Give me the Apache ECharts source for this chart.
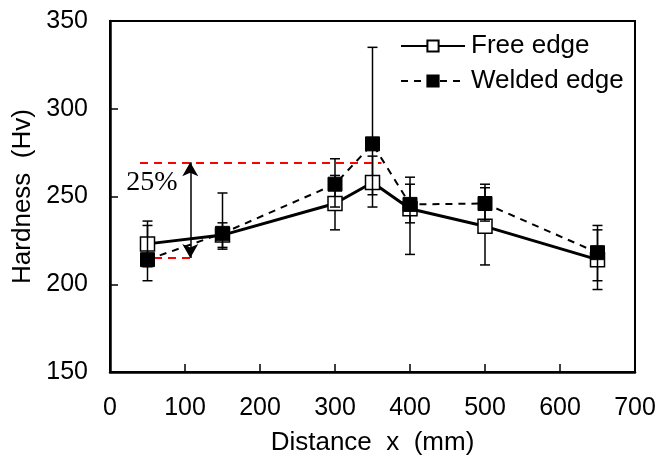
<!DOCTYPE html>
<html>
<head>
<meta charset="utf-8">
<script src="https://cdn.jsdelivr.net/npm/echarts@6/dist/echarts.min.js"></script>
<style>html,body{margin:0;padding:0;background:#fff}#c{width:665px;height:461px}</style>
</head>
<body>
<div id="c"></div>
<script>
// ---- data ----
const distance = [50, 150, 300, 350, 400, 500, 650];
const freeEdge = [223, 228, 246, 258, 243, 233, 214];
const freeLow  = [210, 221, 231, 244, 217, 211, 197];
const freeHigh = [236, 235, 262, 273, 257, 255, 231];
const weldedEdge = [214, 229, 257, 280, 245.5, 246, 218];
const weldedLow  = [202, 220, 244, 251, 235, 236, 202];
const weldedHigh = [233.5, 252, 271.5, 335, 261, 257, 233.5];
const yTicks = [150, 200, 250, 300, 350];
const xTicks = [0, 100, 200, 300, 400, 500, 600, 700];
// annotation values
const annoHigh = 269.5;
const annoLow = 215;
const annoHighRange = [40, 362];
const annoLowRange = [40, 107];
const arrowX = 107;
const annoText = '25%';
const annoTextPos = [56, 258];

const font = 'Liberation Sans, Arial, sans-serif';
const pairs = (ys) => distance.map((x, i) => [x, ys[i]]);
const errData = (lo, hi) => distance.map((x, i) => [x, lo[i], hi[i]]);

function errRender(params, api) {
  const x = api.value(0), lo = api.value(1), hi = api.value(2);
  const p1 = api.coord([x, lo]), p2 = api.coord([x, hi]);
  const w = 5;
  const st = { stroke: '#000', lineWidth: 1.5 };
  return {
    type: 'group',
    children: [
      { type: 'line', shape: { x1: p1[0], y1: p1[1], x2: p2[0], y2: p2[1] }, style: st },
      { type: 'line', shape: { x1: p1[0] - w, y1: p1[1], x2: p1[0] + w, y2: p1[1] }, style: st },
      { type: 'line', shape: { x1: p2[0] - w, y1: p2[1], x2: p2[0] + w, y2: p2[1] }, style: st }
    ]
  };
}

const chart = echarts.init(document.getElementById('c'), null, { renderer: 'canvas' });
chart.setOption({
  animation: false,
  backgroundColor: '#fff',
  grid: { left: 110, top: 21, right: 30, bottom: 86, show: true, borderColor: '#000', borderWidth: 2 },
  legend: {
    orient: 'vertical',
    left: 400, top: 33,
    padding: 0,
    itemWidth: 64, itemHeight: 14, itemGap: 9,
    textStyle: { fontFamily: font, fontSize: 26, color: '#000', padding: [0, 0, 0, 1] },
    data: ['Free edge', 'Welded edge']
  },
  xAxis: {
    type: 'value', min: xTicks[0], max: xTicks[xTicks.length - 1], interval: 100,
    name: 'Distance  x  (mm)', nameLocation: 'middle', nameGap: 58,
    nameTextStyle: { fontFamily: font, fontSize: 26, color: '#000' },
    axisLine: { show: true, onZero: false, lineStyle: { color: '#000', width: 2.5 } },
    axisTick: { show: true, inside: true, length: 8, lineStyle: { color: '#000', width: 1.5 } },
    axisLabel: { fontFamily: font, fontSize: 25, color: '#000', margin: 24 },
    splitLine: { show: false }
  },
  yAxis: {
    type: 'value', min: yTicks[0], max: yTicks[yTicks.length - 1], interval: 50,
    name: 'Hardness  (Hv)', nameLocation: 'middle', nameGap: 74,
    nameTextStyle: { fontFamily: font, fontSize: 26, color: '#000' },
    axisLine: { show: true, onZero: false, lineStyle: { color: '#000', width: 2.5 } },
    axisTick: { show: true, inside: true, length: 8, lineStyle: { color: '#000', width: 1.5 } },
    axisLabel: { fontFamily: font, fontSize: 25, color: '#000', margin: 22 },
    splitLine: { show: false }
  },
  series: [
    {
      type: 'custom', name: 'freeErr', renderItem: errRender, data: errData(freeLow, freeHigh), z: 3,
      encode: { x: 0, y: [1, 2] }, silent: true
    },
    {
      type: 'line', name: 'Free edge', data: pairs(freeEdge), z: 4,
      symbol: 'rect', symbolSize: 14,
      lineStyle: { color: '#000', width: 3 },
      itemStyle: { color: '#fff', borderColor: '#000', borderWidth: 1.5 },
      markLine: {
        silent: true, symbol: 'none', animation: false,
        label: { show: false },
        lineStyle: { color: '#ff0000', type: [8, 6], width: 2 },
        data: [
          [{ coord: [annoHighRange[0], annoHigh] }, { coord: [annoHighRange[1], annoHigh] }],
          [{ coord: [annoLowRange[0], annoLow] }, { coord: [annoLowRange[1], annoLow] }]
        ]
      }
    },
    {
      type: 'custom', name: 'weldedErr', renderItem: errRender, data: errData(weldedLow, weldedHigh), z: 5,
      encode: { x: 0, y: [1, 2] }, silent: true
    },
    {
      type: 'line', name: 'Welded edge', data: pairs(weldedEdge), z: 6,
      symbol: 'rect', symbolSize: 14,
      lineStyle: { color: '#000', width: 2, type: [7, 6] },
      itemStyle: { color: '#000', borderColor: '#000', borderWidth: 1 },
      markLine: {
        silent: true, symbol: ['arrow', 'arrow'], symbolSize: [12, 14], animation: false,
        label: { show: false },
        lineStyle: { color: '#000', type: 'solid', width: 1.5 },
        data: [
          [{ coord: [arrowX, annoHigh] }, { coord: [arrowX, annoLow] }]
        ]
      },
      markPoint: {
        silent: true, animation: false,
        symbol: 'rect', symbolSize: 1,
        itemStyle: { color: 'rgba(0,0,0,0)' },
        label: { show: true, position: 'inside', formatter: annoText, fontFamily: 'Liberation Serif, Times New Roman, serif', fontSize: 28, color: '#000' },
        data: [{ coord: annoTextPos }]
      }
    }
  ]
});
</script>
</body>
</html>
